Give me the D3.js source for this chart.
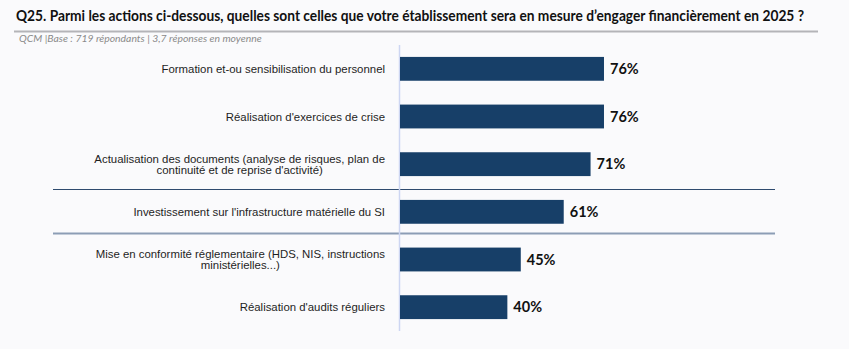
<!DOCTYPE html>
<html>
<head>
<meta charset="utf-8">
<script src="https://cdn.jsdelivr.net/npm/d3@7"></script>
<style>
  body { margin: 0; background: #fafafc; }
  svg { display: block; }
  .title { font-family: Lato, sans-serif; font-weight: bold; font-size: 14.5px; fill: #111; }
  .subtitle { font-family: Lato, sans-serif; font-style: italic; font-size: 10.4px; fill: #8a8a8a; }
  .label { font-family: "Liberation Sans", Arial, sans-serif; font-size: 11.4px; fill: #1e1e1e; }
  .value { font-family: Lato, sans-serif; font-weight: bold; font-size: 14.5px; fill: #111; }
</style>
</head>
<body>
<div id="chart"></div>
<script>
// categories (each label split on its lines) and values in %
var categories = [
  ["Formation et-ou sensibilisation du personnel"],
  ["Réalisation d'exercices de crise"],
  ["Actualisation des documents (analyse de risques, plan de", "continuité et de reprise d'activité)"],
  ["Investissement sur l'infrastructure matérielle du SI"],
  ["Mise en conformité réglementaire (HDS, NIS, instructions", "ministérielles...)"],
  ["Réalisation d'audits réguliers"]
];
var values = [76, 76, 71, 61, 45, 40];
var titleText = "Q25. Parmi les actions ci-dessous, quelles sont celles que votre établissement sera en mesure d\u2019engager financièrement en 2025 ?";
var subtitleText = "QCM |Base : 719 répondants | 3,7 réponses en moyenne";

var width = 849, height = 349;

var svg = d3.select("#chart").append("svg")
    .attr("width", width)
    .attr("height", height);

// title + rule
svg.append("text").attr("class", "title")
    .attr("x", 16).attr("y", 21)
    .attr("textLength", 788)
    .attr("lengthAdjust", "spacingAndGlyphs")
    .text(titleText);

svg.append("line")
    .attr("x1", 14).attr("x2", 818)
    .attr("y1", 31.5).attr("y2", 31.5)
    .attr("stroke", "#b4b4b8").attr("stroke-width", 2);

svg.append("text").attr("class", "subtitle")
    .attr("x", 19).attr("y", 41.5)
    .text(subtitleText);

// scales
var x = d3.scaleLinear().domain([0, 100]).range([400, 668.4]);
var y = d3.scaleBand()
    .domain(d3.range(values.length))
    .range([45, 331])
    .paddingInner(0.5)
    .paddingOuter(0.25);

// group separators
svg.append("line")
    .attr("x1", 53).attr("x2", 775)
    .attr("y1", 189.5).attr("y2", 189.5)
    .attr("stroke", "#2e4a6e").attr("stroke-width", 1.2);
svg.append("line")
    .attr("x1", 53).attr("x2", 775)
    .attr("y1", 233.5).attr("y2", 233.5)
    .attr("stroke", "#8c9db5").attr("stroke-width", 2);

// vertical axis
svg.append("line")
    .attr("x1", x(0) - 0.5).attr("x2", x(0) - 0.5)
    .attr("y1", 45).attr("y2", 331)
    .attr("stroke", "#cdd6f2").attr("stroke-width", 1.5);

// bars
svg.selectAll("rect.bar")
  .data(values)
  .join("rect")
    .attr("class", "bar")
    .attr("x", x(0))
    .attr("y", (d, i) => y(i))
    .attr("width", d => x(d) - x(0))
    .attr("height", y.bandwidth())
    .attr("fill", "#173f68");

// value labels
svg.selectAll("text.value")
  .data(values)
  .join("text")
    .attr("class", "value")
    .attr("x", d => x(d) + 6)
    .attr("y", (d, i) => y(i) + y.bandwidth() / 2)
    .attr("dy", "0.36em")
    .text(d => d + "%");

// category labels
var lab = svg.selectAll("text.label")
  .data(categories)
  .join("text")
    .attr("class", "label")
    .attr("y", (d, i) => y(i) + y.bandwidth() / 2);

lab.each(function(lines) {
  var t = d3.select(this);
  var n = lines.length;
  lines.forEach(function(s, k) {
    t.append("tspan")
      .attr("x", 385)
      .attr("text-anchor", "end")
      .attr("dy", k === 0 ? (0.36 - (n - 1) * 0.5) + "em" : "1em")
      .text(s);
  });
});
// multi-line labels: first line right-aligned, following lines centred under it
lab.filter(d => d.length > 1).each(function() {
  var spans = d3.select(this).selectAll("tspan");
  var w = spans.nodes()[0].getComputedTextLength();
  spans.filter((d, k) => k > 0).attr("x", 385 - w / 2).attr("text-anchor", "middle");
});
</script>
</body>
</html>
